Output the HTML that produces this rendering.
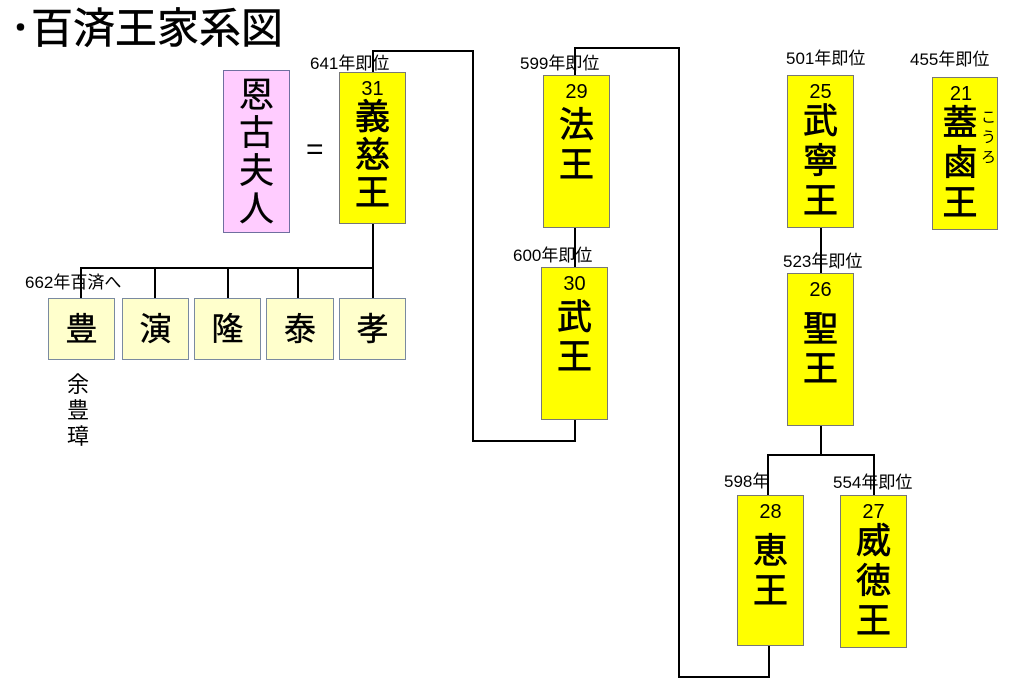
<!DOCTYPE html>
<html><head><meta charset="utf-8"><style>
body{margin:0;width:1024px;height:691px;background:#fff;position:relative;overflow:hidden;font-family:"Liberation Sans","Noto Sans CJK JP",sans-serif;color:#000}
.b{position:absolute;box-sizing:border-box;border:1.5px solid #777;background:#ffff00;text-align:center}
.n{font-size:20px;line-height:20px;margin-top:6px}
.c{font-size:35px;line-height:40px;font-weight:normal;-webkit-text-stroke:0.7px #000}
.l{position:absolute;font-size:17px;line-height:18px;white-space:nowrap}
.s{position:absolute;box-sizing:border-box;border:1.5px solid #7a8aa0;background:#ffffcc;font-size:32px;text-align:center;line-height:60px;-webkit-text-stroke:0.4px #000}
</style></head><body>
<div class="l" style="left:10px;top:4px;font-size:42px;line-height:50px;-webkit-text-stroke:0.5px #000">･百済王家系図</div>

<svg style="position:absolute;left:0;top:0" width="1024" height="691">
<g fill="none" stroke="#000" stroke-width="2">
<polyline points="373,72 373,51 473,51 473,441 575,441 575,420"/>
<polyline points="575,75 575,48 679,48 679,677 769,677 769,646"/>
<line x1="575" y1="228" x2="575" y2="267"/>
<line x1="821" y1="228" x2="821" y2="273"/>
<polyline points="821,426 821,455"/>
<polyline points="768,495 768,455 874,455 874,495"/>
<line x1="373" y1="224" x2="373" y2="298"/>
<polyline points="81,298 81,268 373,268"/>
<line x1="155" y1="268" x2="155" y2="298"/>
<line x1="228" y1="268" x2="228" y2="298"/>
<line x1="298" y1="268" x2="298" y2="298"/>
</g></svg>

<div class="b" style="left:223px;top:70px;width:67px;height:163px;background:#ffccff;border-color:#6f6fa0"><div class="c" style="margin-top:6px;line-height:38px;-webkit-text-stroke:0.3px #000">恩<br>古<br>夫<br>人</div></div>
<div class="l" style="left:306px;top:134px;font-size:30px;line-height:32px">=</div>

<div class="l" style="left:310px;top:55px">641年即位</div>
<div class="b" style="left:339px;top:72px;width:67px;height:152px"><div class="n">31</div><div class="c" style="line-height:38px">義<br>慈<br>王</div></div>

<div class="l" style="left:520px;top:55px">599年即位</div>
<div class="b" style="left:543px;top:75px;width:67px;height:153px"><div class="n">29</div><div class="c" style="margin-top:4px">法<br>王</div></div>
<div class="l" style="left:513px;top:247px">600年即位</div>
<div class="b" style="left:541px;top:267px;width:67px;height:153px"><div class="n">30</div><div class="c" style="margin-top:4px">武<br>王</div></div>

<div class="l" style="left:786px;top:50px">501年即位</div>
<div class="b" style="left:787px;top:75px;width:67px;height:153px"><div class="n">25</div><div class="c">武<br>寧<br>王</div></div>
<div class="l" style="left:783px;top:253px">523年即位</div>
<div class="b" style="left:787px;top:273px;width:67px;height:153px"><div class="n">26</div><div class="c" style="margin-top:10px">聖<br>王</div></div>

<div class="l" style="left:910px;top:51px">455年即位</div>
<div class="b" style="left:932px;top:77px;width:66px;height:153px"><div class="n" style="margin-right:8px">21</div><div class="c" style="margin-right:10px">蓋<br>鹵<br>王</div>
<div style="position:absolute;left:48px;top:30px;font-size:15px;line-height:20px">こ<br>う<br>ろ</div></div>

<div class="l" style="left:724px;top:473px">598年</div>
<div class="b" style="left:737px;top:495px;width:67px;height:151px"><div class="n">28</div><div class="c" style="margin-top:10px">恵<br>王</div></div>
<div class="l" style="left:833px;top:474px">554年即位</div>
<div class="b" style="left:840px;top:495px;width:67px;height:153px"><div class="n">27</div><div class="c">威<br>徳<br>王</div></div>

<div class="l" style="left:25px;top:274px">662年百済へ</div>
<div class="s" style="left:48px;top:298px;width:67px;height:62px">豊</div>
<div class="s" style="left:122px;top:298px;width:67px;height:62px">演</div>
<div class="s" style="left:194px;top:298px;width:67px;height:62px">隆</div>
<div class="s" style="left:266px;top:298px;width:68px;height:62px">泰</div>
<div class="s" style="left:339px;top:298px;width:67px;height:62px">孝</div>
<div class="l" style="left:67px;top:372px;font-size:22px;line-height:26px">余<br>豊<br>璋</div>
</body></html>
